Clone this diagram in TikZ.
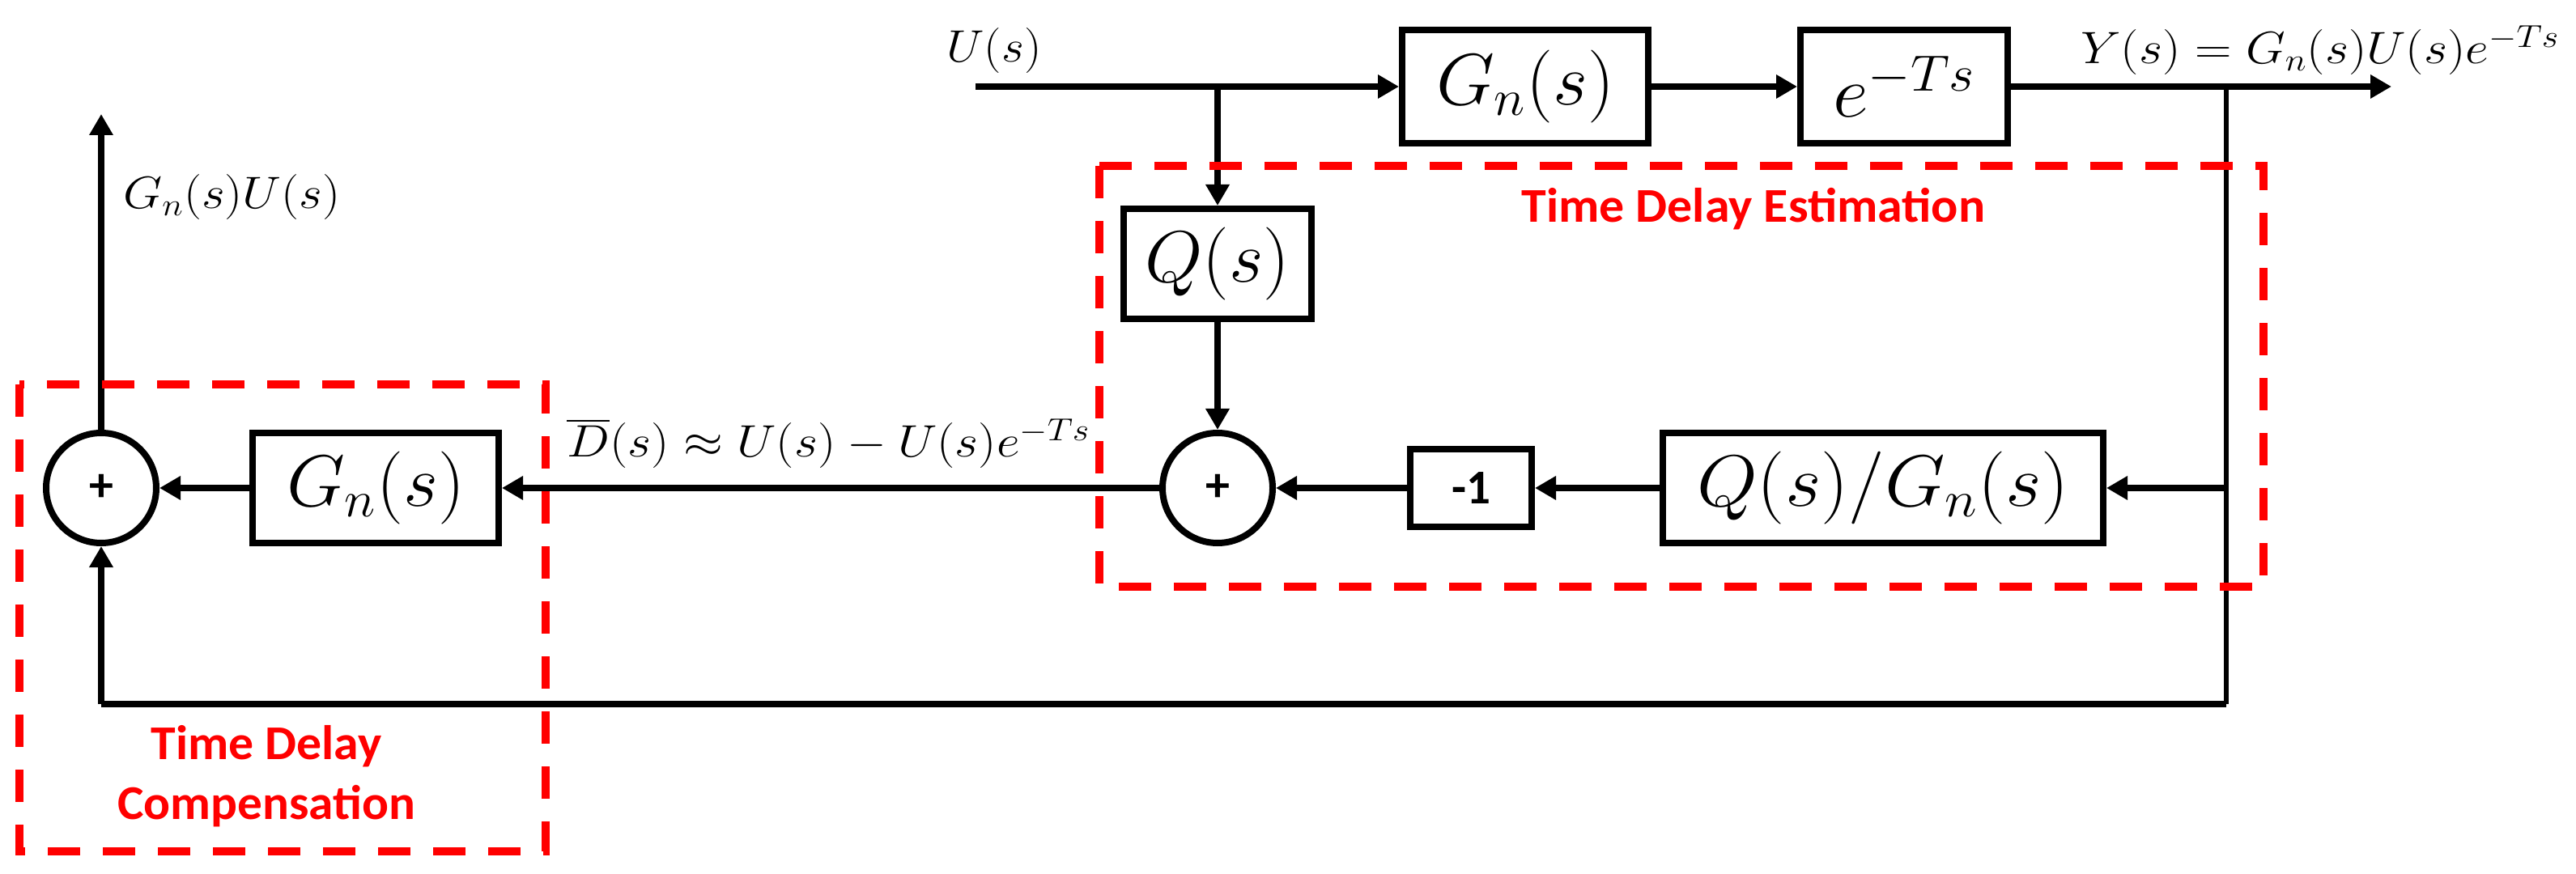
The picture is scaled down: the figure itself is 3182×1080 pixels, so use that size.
\RequirePackage{fix-cm}
\documentclass[tikz,border=0pt]{standalone}
\usepackage{amsmath}
\usepackage{graphicx}
\usepackage{fontspec}
\newfontfamily\calib{Carlito}
\newcommand{\fitw}[2]{\resizebox{#1}{\height}{#2}}
\usetikzlibrary{arrows.meta}
\begin{document}
\begin{tikzpicture}[x=0.5pt,y=-0.5pt,
  conn/.style={line width=4pt,-{Triangle[length=13pt,width=14pt]}},
  wire/.style={line width=4pt,line join=miter},
  blk/.style={draw,line width=4pt,inner sep=0pt,font=\fontsize{45}{52}\selectfont},
  sumc/.style={draw,circle,line width=4pt,minimum size=68pt,inner sep=0pt,font=\calib\bfseries\fontsize{30}{36}\selectfont},
  lbl/.style={inner sep=0pt,font=\fontsize{28}{34}\selectfont},
  grp/.style={draw=red,line width=5pt,dash pattern=on 20pt off 14pt},
  grptxt/.style={text=red,font=\calib\bfseries\fontsize{30}{37}\selectfont,inner sep=0pt,align=center}]
\fill[white] (0,0) rectangle (3182,1080);
\useasboundingbox (0,0) rectangle (3182,1080);

% blocks
\node[blk,minimum width=152pt,minimum height=70pt] (gtop) at (1884,107) {\fitw{110pt}{$G_n(s)$}};
\node[blk,minimum width=128pt,minimum height=70pt] (edel) at (2352,107) {\fitw{88pt}{$e^{-Ts}$}};
\node[blk,minimum width=116pt,minimum height=68pt] (qbox) at (1504,326) {\fitw{89.5pt}{$Q(s)$}};
\node[blk,minimum width=152pt,minimum height=68pt] (gleft) at (464,603) {\fitw{110pt}{$G_n(s)$}};
\node[blk,minimum width=75pt,minimum height=48pt,font=\calib\bfseries\fontsize{30}{36}\selectfont] (neg) at (1817,603) {\fitw{24pt}{-1}};
\node[blk,minimum width=272pt,minimum height=68pt] (qg) at (2326,603) {\fitw{230pt}{$Q(s)/G_n(s)$}};
\node[sumc] (s1) at (125,603) {+};
\node[sumc] (s2) at (1504,603) {+};

% free ends and branch points
\coordinate (uin) at (1205,107);
\coordinate (ubr) at (1504,107);
\coordinate (yout) at (2954,107);
\coordinate (ybr) at (2750,107);
\coordinate (yqg) at (2750,603);
\coordinate (fbr) at (2750,870);
\coordinate (fbl) at (125,870);
\coordinate (gout) at (125,141);

% connectors
\draw[conn] (uin) -- (gtop.west);
\draw[conn] (ubr) -- (qbox.north);
\draw[conn] (gtop.east) -- (edel.west);
\draw[conn] (edel.east) -- (yout);
\draw[wire,line width=3pt] (ybr) -- (fbr);
\draw[wire] (fbr) -- (fbl);
\draw[conn] (fbl) -- (s1.south);
\draw[conn] (yqg) -- (qg.east);
\draw[conn] (qg.west) -- (neg.east);
\draw[conn] (neg.west) -- (s2.east);
\draw[conn] (qbox.south) -- (s2.north);
\draw[conn] (s2.west) -- (gleft.east);
\draw[conn] (gleft.west) -- (s1.east);
\draw[conn] (s1.north) -- (gout);

% signal labels
\node[lbl,anchor=base west] (glab) at (152,258) {\fitw{134pt}{$G_n(s)U(s)$}};
\node[lbl,anchor=base] (ulab) at (1228,77) {\fitw{58.5pt}{$U(s)$}};
\node[lbl,anchor=base west] (ylab) at (2570,79) {\fitw{295.5pt}{$Y(s)=G_n(s)U(s)e^{-Ts}$}};
\node[lbl,anchor=base west] (dlab) at (700,565) {\fitw{323pt}{$\overline{D}(s)\approx U(s)-U(s)e^{-Ts}$}};

% groups
\draw[grp] (1358,205) rectangle (2796,725);
\draw[grp] (24,475) rectangle (674,1052);
\node[grptxt] (est) at (2166,258) {\fitw{286.5pt}{Time Delay Estimation}};
\node[grptxt] (comp) at (329,959) {\fitw{142.5pt}{Time Delay}\\\fitw{184pt}{Compensation}};
\end{tikzpicture}
\end{document}
